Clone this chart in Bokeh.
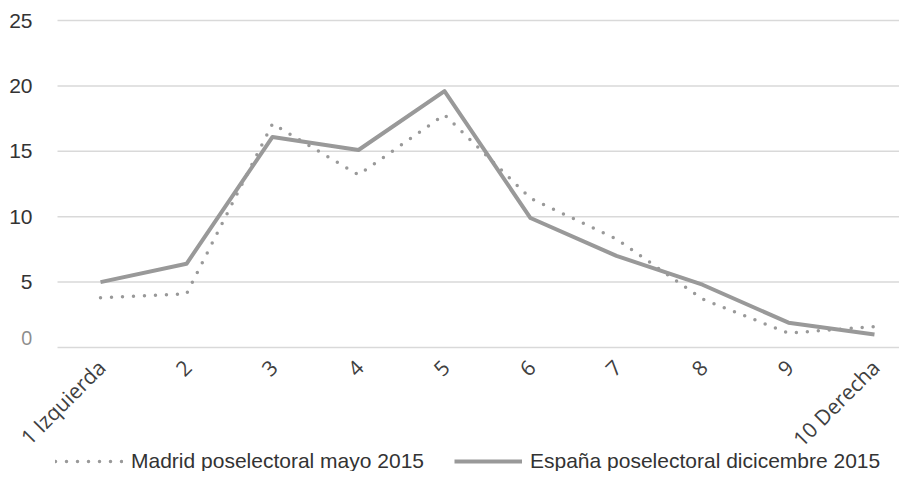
import math
from bokeh.plotting import figure
from bokeh.models import Legend, LegendItem, Range1d
from bokeh.core.properties import value
from bokeh.embed import file_html
from bokeh.resources import INLINE

categories = ["1 Izquierda", "2", "3", "4", "5", "6", "7", "8", "9", "10 Derecha"]
positions = list(range(1, 11))
madrid_mayo_2015 = [3.8, 4.1, 17.1, 13.2, 17.8, 11.4, 8.3, 3.7, 1.1, 1.6]
espana_dic_2015 = [5.0, 6.4, 16.1, 15.1, 19.6, 9.9, 7.0, 4.8, 1.9, 1.0]
y_ticks = [0, 5, 10, 15, 20, 25]
y_tick_labels = ["0", "5", "10", "15", "20", "25"]

X0, X1 = -0.163, 10.291
Y0, Y1 = -9.48, 26.53
p = figure(width=899, height=471, output_backend="svg", toolbar_location=None,
           x_range=Range1d(X0, X1), y_range=Range1d(Y0, Y1),
           min_border_left=0, min_border_right=0, min_border_top=0,
           min_border_bottom=0)
p.outline_line_color = None
p.xgrid.grid_line_color = None
p.ygrid.grid_line_color = None
p.xaxis.visible = False
p.yaxis.visible = False

# horizontal gridlines starting at the plot area's left edge
p.segment(x0=[0.5] * len(y_ticks), x1=[X1] * len(y_ticks), y0=y_ticks, y1=y_ticks,
          line_color="#d9d9d9", line_width=1.5)

# y tick labels
p.text(x=[0.5] * (len(y_ticks) - 1), y=y_ticks[1:], text=y_tick_labels[1:],
       x_offset=-25, text_align="right", text_baseline="middle",
       text_font=value("Liberation Sans"), text_font_size=value("21px"),
       text_color="#333333")
p.text(x=[0.5], y=y_ticks[:1], text=y_tick_labels[:1],
       x_offset=-25, y_offset=-10, text_align="right", text_baseline="middle",
       text_font=value("Open Sans"), text_font_size=value("20px"),
       text_color="#8c8c8c")

# x category labels, rotated 45 degrees
p.text(x=positions, y=[0] * len(positions), text=categories, angle=math.pi / 4,
       x_offset=1, y_offset=16, text_align="right", text_baseline="middle",
       text_font=value("Open Sans"), text_font_size=value("21px"),
       text_color="#404040")

r_mad = p.line(positions, madrid_mayo_2015, line_color="#999999", line_width=3.5,
               line_dash="0 11", line_cap="round")
r_esp = p.line(positions, espana_dic_2015, line_color="#999999", line_width=4,
               line_join="round")

legend = Legend(items=[LegendItem(label="Madrid poselectoral mayo 2015", renderers=[r_mad]),
                       LegendItem(label="España poselectoral dicicembre 2015", renderers=[r_esp])],
                location=(55, -2), orientation="horizontal",
                glyph_width=68, glyph_height=22, label_height=22, label_standoff=8,
                spacing=30, padding=0, margin=0,
                label_text_font="Liberation Sans", label_text_font_size="21px",
                label_text_color="#333333", border_line_color=None,
                background_fill_alpha=0)
p.add_layout(legend, "center")

open("out.html", "w").write(file_html(p, INLINE))
